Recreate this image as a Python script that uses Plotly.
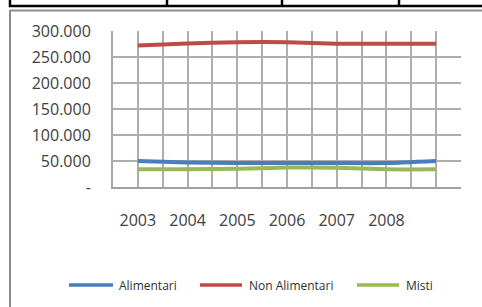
import plotly.graph_objects as go

# ---- data ----
years = ["2003", "2004", "2005", "2006", "2007", "2008"]
alimentari = [50000, 47000, 46000, 46000, 46000, 46000, 50000]
non_alimentari = [272000, 276000, 278500, 278500, 275500, 275500, 275500]
misti = [34000, 34000, 35000, 37500, 37000, 34000, 34000]
y_ticks = [0, 50000, 100000, 150000, 200000, 250000, 300000]
y_tick_text = ["-", "50.000", "100.000", "150.000", "200.000", "250.000", "300.000"]
series_names = ["Alimentari", "Non Alimentari", "Misti"]
series_colors = ["#4A7EBB", "#BE4B48", "#98B954"]

W, H = 482, 307
L, R, T, B = 113, 461, 31, 187  # plot area in pixels


def px(x):
    return (x - L) / (R - L)


def py(y):
    return (B - y) / (B - T)


xs = list(range(len(alimentari)))
FONT = "Open Sans"

fig = go.Figure()
for name, vals, col in zip(series_names, [alimentari, non_alimentari, misti], series_colors):
    fig.add_trace(go.Scatter(
        x=xs, y=vals, name=name, mode="lines",
        line=dict(color=col, width=4, shape="spline", smoothing=0.5),
    ))

xtickvals = [i * 0.5 - 0.5 for i in range(2 * len(xs) + 1)]
xticktext = []
for v in xtickvals:
    if v >= 0 and float(v).is_integer() and int(v) < len(years):
        xticktext.append(years[int(v)])
    else:
        xticktext.append("")

shapes = []
annotations = []
# outer chart frame (grey)
shapes.append(dict(type="line", xref="paper", yref="paper",
                   x0=px(10), x1=px(10), y0=py(10), y1=py(310),
                   line=dict(color="#8C8C8C", width=2)))
shapes.append(dict(type="line", xref="paper", yref="paper",
                   x0=px(10), x1=px(490), y0=py(10.5), y1=py(10.5),
                   line=dict(color="#8C8C8C", width=2)))
# table lines at top (black)
shapes.append(dict(type="line", xref="paper", yref="paper",
                   x0=px(9), x1=px(490), y0=py(6), y1=py(6),
                   line=dict(color="#000000", width=2.5)))
for xv in [10, 167, 282, 399]:
    shapes.append(dict(type="line", xref="paper", yref="paper",
                       x0=px(xv), x1=px(xv), y0=py(-2), y1=py(7),
                       line=dict(color="#000000", width=2.5)))

# custom legend
legend_pos = [(69, 113, 117), (200, 242, 247), (357, 399, 404)]
LY = 285
for (x0, x1, xt), name, col in zip(legend_pos, series_names, series_colors):
    shapes.append(dict(type="line", xref="paper", yref="paper",
                       x0=px(x0), x1=px(x1), y0=py(LY), y1=py(LY),
                       line=dict(color=col, width=3.5)))
    annotations.append(dict(text=name, xref="paper", yref="paper",
                            x=px(xt), y=py(LY), xanchor="left", yanchor="middle",
                            showarrow=False,
                            font=dict(size=12, family=FONT, color="#303030")))

fig.update_layout(
    width=W, height=H,
    margin=dict(l=L, r=W - R, t=T, b=H - B),
    paper_bgcolor="white", plot_bgcolor="white",
    font=dict(family=FONT, color="#404040"),
    showlegend=False,
    xaxis=dict(range=[-0.5, len(xs) - 0.5], tickvals=xtickvals, ticktext=xticktext,
               showgrid=True, gridcolor="#AEAEAE", gridwidth=2,
               showline=True, linecolor="#A0A0A0", linewidth=2, mirror=False,
               zeroline=False, ticks="", ticklabelstandoff=18,
               tickfont=dict(size=16, family=FONT, color="#404040")),
    yaxis=dict(range=[0, 300000], tickvals=y_ticks, ticktext=y_tick_text,
               showgrid=True, gridcolor="#AEAEAE", gridwidth=2,
               showline=True, linecolor="#A8A8A8", linewidth=2,
               zeroline=False, ticks="", ticklabelstandoff=17,
               tickfont=dict(size=16, family=FONT, color="#404040")),
    shapes=shapes,
    annotations=annotations,
)

fig.write_html("out.html", config={"displayModeBar": False},
               post_script="document.body.style.margin='0px';")
